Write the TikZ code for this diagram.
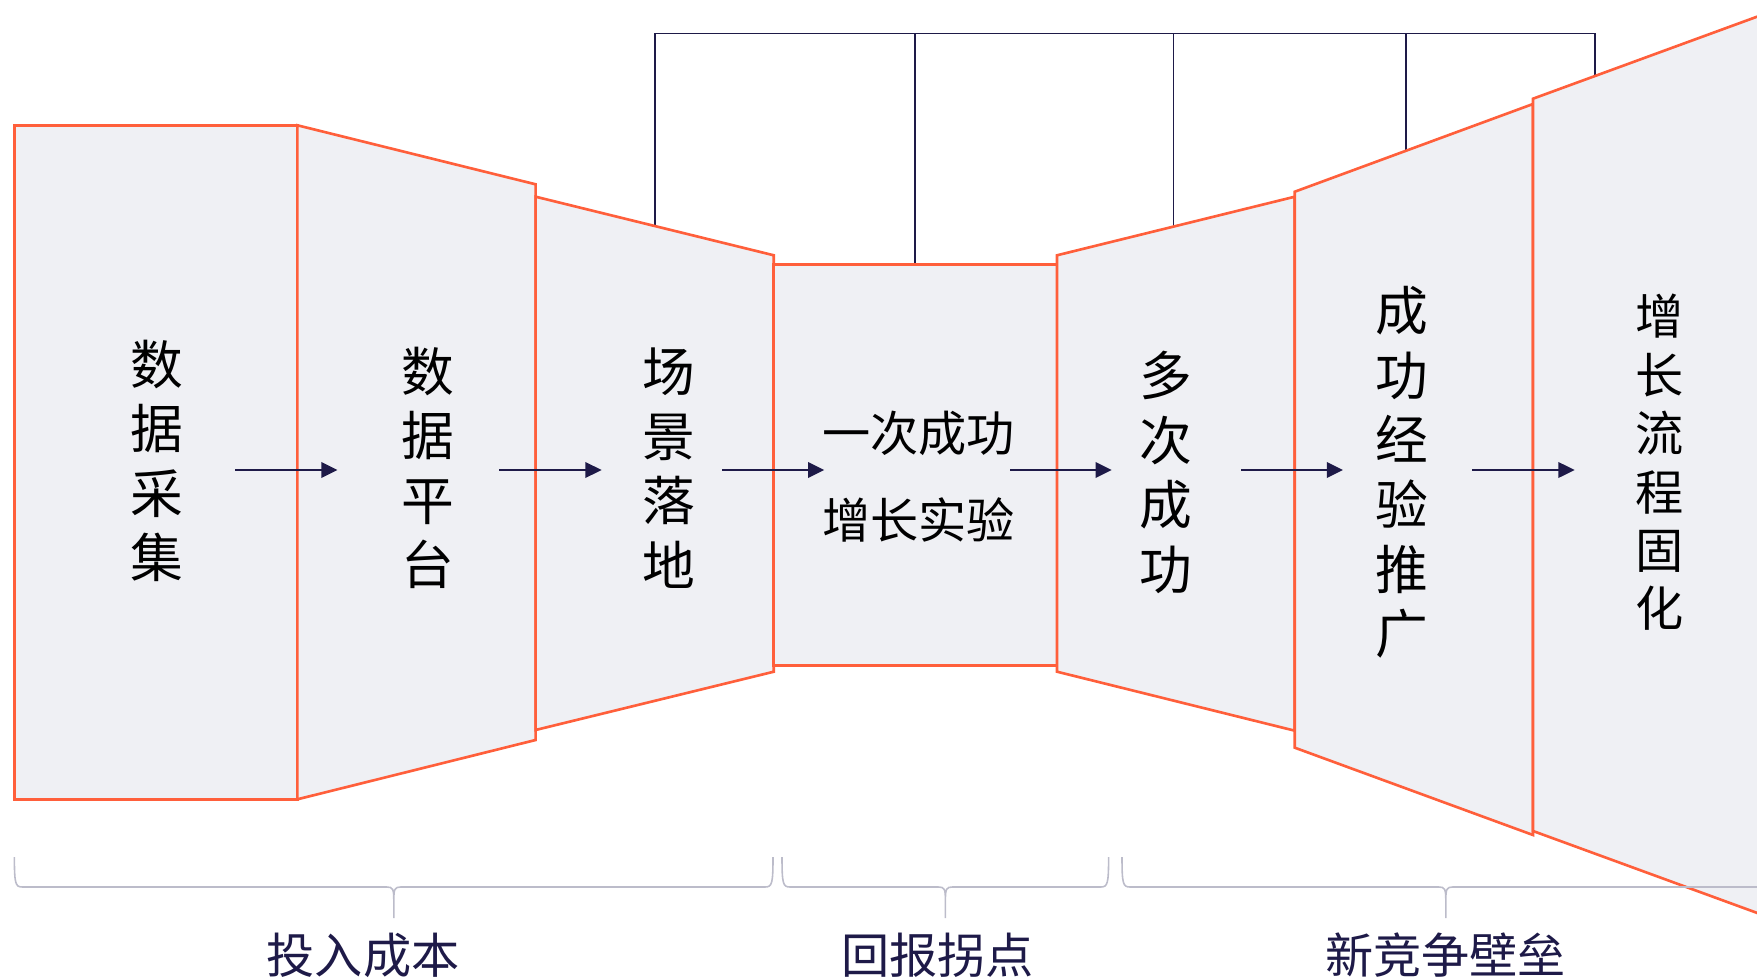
\documentclass[tikz,border=0pt]{standalone}
\usepackage{fontspec}
\newfontfamily\cjk{Noto Sans CJK SC}
\usepackage{tikz}
\usetikzlibrary{arrows.meta}
\definecolor{edge}{HTML}{FF5F3B}
\definecolor{blockfill}{HTML}{EFF0F4}
\definecolor{navy}{HTML}{1E1A48}
\definecolor{bracegray}{HTML}{BCBCCA}

\begin{document}
\begin{tikzpicture}[x=0.01cm,y=-0.01cm,
  block/.style={fill=blockfill,draw=edge,line width=0.75pt},
  col/.style={font=\cjk\fontsize{15}{18.35}\selectfont,align=center,inner sep=0pt},
  arr/.style={-{Triangle[length=4.6pt,width=4.4pt]},draw=navy,fill=navy,line width=0.6pt},
  link/.style={draw=navy,line width=0.45pt},
  brc/.style={draw=bracegray,line width=0.45pt},
  phase/.style={font=\cjk\fontsize{13.7}{16}\selectfont,text=navy,inner sep=0pt}]
  \useasboundingbox (0,0) rectangle (1757,979);
  \clip (0,0) rectangle (1757,979);
  % Top bracket
  \draw[link] (655,225.7) -- (655,33.7) -- (1595,33.7) -- (1595,76);
  \draw[link] (914.8,33.7) -- (914.8,264.3);
  \draw[link] (1173.3,33.7) -- (1173.3,225.7);
  \draw[link] (1405.9,33.7) -- (1405.9,150.8);
  % Blocks
  \draw[block] (14.4,125.3) rectangle (297.4,799.3);
  \draw[block] (297.4,125.3) -- (535.6,184.3) -- (535.6,740) -- (297.4,799.3) -- cycle;
  \draw[block] (535.6,196.7) -- (773.8,255.3) -- (773.8,671.7) -- (535.6,730) -- cycle;
  \draw[block] (773.8,264.3) rectangle (1057,665.7);
  \draw[block] (1057,255.3) -- (1294.8,196.7) -- (1294.8,730.7) -- (1057,671.7) -- cycle;
  \draw[block] (1294.8,191.7) -- (1533,104) -- (1533,835) -- (1294.8,747.7) -- cycle;
  \draw[block] (1533,98.7) -- (1771,11.6) -- (1771,918) -- (1533,831) -- cycle;
  % Block texts
  \node[col] (collect) at (156.4,461) {数\\据\\采\\集};
  \node[col] (platform) at (427.8,468) {数\\据\\平\\台};
  \node[col] (scene) at (668.4,468) {场\\景\\落\\地};
  \node[col,font=\cjk\fontsize{13.7}{24.75}\selectfont] (first) at (918.7,477) {一次成功\\增长实验};
  \node[col] (many) at (1166,472.5) {多\\次\\成\\功};
  \node[col] (spread) at (1402,472.5) {成\\功\\经\\验\\推\\广};
  \node[col,font=\cjk\fontsize{13.7}{16.6}\selectfont] (fixed) at (1660,462.5) {增\\长\\流\\程\\固\\化};
  % Flow arrows
  \foreach \s/\e [count=\i] in {235/337.5,499.4/601.6,722/824.3,1010/1111.7,1241/1343,1472/1574.6} {
    \coordinate (as\i) at (\s,470);
    \coordinate (ae\i) at (\e,470);
    \draw[arr] (as\i) -- (ae\i);
  }
  % Braces
  \foreach \l/\m/\r in {14.4/393.8/773,782/945.4/1108.6,1122/1445.8/1770}
    \draw[brc] (\l,857) .. controls (\l,884) and (\l+1,887) .. (\l+8,887)
      -- (\m-7,887) .. controls (\m-1,887) and (\m,889) .. (\m,900) -- (\m,918)
      (\m,900) .. controls (\m,889) and (\m+1,887) .. (\m+7,887)
      -- (\r-8,887) .. controls (\r-1,887) and (\r,884) .. (\r,857);
  % Phase labels
  \node[phase] (cost) at (363,955) {投入成本};
  \node[phase] (turn) at (937.5,955) {回报拐点};
  \node[phase] (moat) at (1445.5,955) {新竞争壁垒};
\end{tikzpicture}
\end{document}
